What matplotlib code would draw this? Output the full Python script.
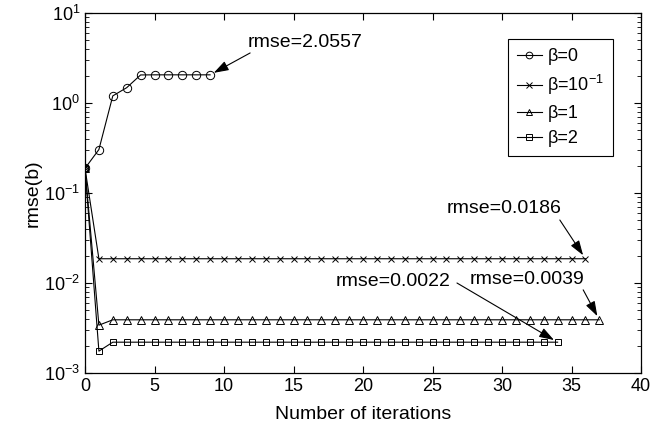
import numpy as np
import matplotlib
matplotlib.use('Agg')
import matplotlib.pyplot as plt

plt.rcParams['font.family'] = ['Liberation Sans', 'DejaVu Sans']
plt.rcParams['mathtext.fontset'] = 'custom'
plt.rcParams['mathtext.rm'] = 'Liberation Sans'
plt.rcParams['mathtext.it'] = 'Liberation Sans:italic'

# rmse(b) per iteration for each beta
rmse_b0 = [0.188, 0.304, 1.2, 1.48, 2.05, 2.0557, 2.0557, 2.0557, 2.0557, 2.0557]
rmse_b01 = [0.188] + [0.0186] * 36
rmse_b1 = [0.188, 0.0034] + [0.0039] * 36
rmse_b2 = [0.188, 0.00175] + [0.0022] * 33

labels = ['β=0', 'β=10$^{-1}$', 'β=1', 'β=2']
markers = ['o', 'x', '^', 's']
series = [rmse_b0, rmse_b01, rmse_b1, rmse_b2]
msizes = [6, 5, 6, 5]

fig = plt.figure(figsize=(6.53, 4.36), dpi=100)
ax = fig.add_axes([85 / 653, 1 - 373 / 436, 556 / 653, 360 / 436])

for y, lab, m, ms in zip(series, labels, markers, msizes):
    ax.plot(np.arange(len(y)), y, color='k', linewidth=0.8, marker=m,
            markersize=ms, markerfacecolor='none', markeredgecolor='k',
            markeredgewidth=0.7, label=lab)

ax.set_yscale('log')
ax.set_xlim(0, 40)
ax.set_ylim(1e-3, 1e1)
ax.set_xticks(range(0, 41, 5))
ax.tick_params(which='both', direction='in', top=True, right=True, labelsize=13)
ax.tick_params(which='major', length=5, width=0.8)
ax.tick_params(which='minor', length=3, width=0.6)
ax.tick_params(axis='x', which='minor', bottom=False, top=False)
for s in ax.spines.values():
    s.set_linewidth(0.9)

ax.set_xlabel('Number of iterations', fontsize=14, labelpad=8)
ax.set_ylabel('rmse(b)', fontsize=14, labelpad=2)

leg = ax.legend(loc='upper right', bbox_to_anchor=(0.95, 0.928), fontsize=13,
                fancybox=False, edgecolor='k', framealpha=1, handlelength=1.4,
                handletextpad=0.3, labelspacing=0.45, borderpad=0.5,
                borderaxespad=0, markerscale=0.8)
leg.get_frame().set_linewidth(0.8)

arrow = dict(arrowstyle='-|>,head_length=0.9,head_width=0.3', color='k',
             lw=0.8, shrinkA=0, shrinkB=3)

# annotations: (text, text pos, arrow start, tip)
notes = [
    ('rmse=2.0557', (0.293, 0.919), (0.297, 0.889), (9, 2.0557)),
    ('rmse=0.0186', (0.651, 0.458), (0.854, 0.425), (36, 0.0186)),
    ('rmse=0.0039', (0.692, 0.261), (0.896, 0.231), (37, 0.0039)),
    ('rmse=0.0022', (0.450, 0.253), (0.669, 0.250), (34, 0.0022)),
]
for txt, tpos, start, tip in notes:
    ax.text(tpos[0], tpos[1], txt, transform=ax.transAxes, fontsize=14,
            ha='left', va='center')
    ax.annotate('', xy=tip, xycoords='data', xytext=start,
                textcoords='axes fraction', arrowprops=arrow)

fig.savefig('out.png', dpi=100)
